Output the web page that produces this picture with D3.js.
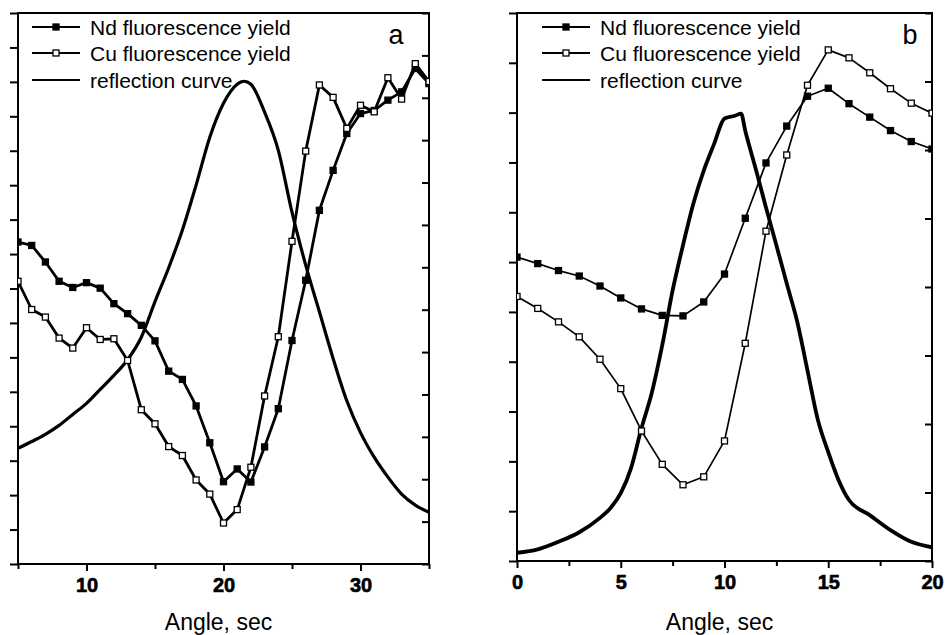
<!DOCTYPE html>
<html>
<head>
<meta charset="utf-8">
<script src="https://cdn.jsdelivr.net/npm/d3@7"></script>
<style>
  html, body { margin: 0; padding: 0; background: #fff; }
  svg { display: block; font-family: "Liberation Sans", Arial, sans-serif; }
</style>
</head>
<body>
<svg id="chart" width="948" height="635"></svg>
<script>
// panel a: angle 5..35 sec
const anglesA = [5, 6, 7, 8, 9, 10, 11, 12, 13, 14, 15, 16, 17, 18, 19, 20,
  21, 22, 23, 24, 25, 26, 27, 28, 29, 30, 31, 32, 33, 34, 35];
const ndA = [9.35, 9.25, 8.77, 8.21, 8.03, 8.17, 8.01, 7.56, 7.27, 6.93, 6.48, 5.6, 5.36, 4.59, 3.52, 2.39,
  2.76, 2.38, 3.4, 4.51, 6.49, 8.24, 10.27, 11.43, 12.5, 13.08, 13.17, 13.47, 13.71, 14.39, 13.95];
const cuA = [8.21, 7.39, 7.17, 6.56, 6.27, 6.86, 6.52, 6.54, 5.91, 4.48, 4.07, 3.41, 3.15, 2.44, 2.03, 1.19,
  1.58, 2.81, 4.88, 6.6, 9.37, 11.99, 13.91, 13.55, 12.65, 13.32, 13.13, 14.12, 13.5, 14.53, 14.01];
const reflAnglesA = [5, 6, 7, 8, 9, 10, 11, 12, 13, 14, 15, 16, 17, 18, 19, 20, 21, 21.5,
  22, 23, 24, 25, 26, 27, 28, 29, 30, 31, 32, 33, 34, 35];
const reflA = [2.73, 2.89, 3.06, 3.27, 3.53, 3.79, 4.12, 4.45, 4.82, 5.35, 6.19, 6.99, 7.88, 8.94, 10.07, 10.87, 11.32, 11.39,
  11.32, 10.66, 9.76, 8.3, 7.05, 5.95, 4.85, 3.85, 3.1, 2.52, 2.05, 1.65, 1.39, 1.22];

// panel b: angle 0..20 sec
const anglesB = [0, 1, 2, 3, 4, 5, 6, 7, 8, 9, 10, 11, 12, 13, 14, 15, 16, 17, 18, 19, 20];
const ndB = [6.1, 5.97, 5.83, 5.72, 5.52, 5.28, 5.06, 4.93, 4.92, 5.2, 5.76,
  6.88, 7.99, 8.73, 9.33, 9.49, 9.18, 8.91, 8.64, 8.42, 8.27];
const cuB = [5.31, 5.07, 4.8, 4.5, 4.05, 3.46, 2.61, 1.94, 1.53, 1.69, 2.41,
  4.37, 6.62, 8.15, 9.55, 10.26, 10.1, 9.8, 9.48, 9.19, 8.99];
const reflAnglesB = [0, 1, 2, 3, 4, 4.5, 5, 5.5, 6, 6.5, 7, 7.5, 8, 8.5, 9, 9.5, 10, 10.5, 10.8,
  11, 11.5, 12, 12.5, 13, 13.5, 14, 14.5, 15, 15.5, 16, 17, 18, 19, 20];
const reflB = [0.12, 0.17, 0.28, 0.42, 0.63, 0.77, 0.99, 1.36, 1.94, 2.46, 3.15, 3.95, 4.61, 5.22, 5.7, 6.09, 6.46, 6.5, 6.53,
  6.28, 5.73, 5.16, 4.61, 4.05, 3.5, 2.78, 2.06, 1.59, 1.18, 0.89, 0.67, 0.45, 0.28, 0.2];

const legendLabels = ["Nd fluorescence yield", "Cu fluorescence yield", "reflection curve"];
const xTicksA = [10, 20, 30];
const xTicksB = [0, 5, 10, 15, 20];

const svg = d3.select("#chart");

function drawPanel(p) {
  const g = svg.append("g");
  const x = d3.scaleLinear().domain(p.xDomain).range([p.left, p.right]);
  const yL = d3.scaleLinear().domain(p.leftDomain).range([p.bottom, p.top]);
  const yR = d3.scaleLinear().domain(p.rightDomain).range([p.bottom, p.top]);

  // frame
  g.append("rect")
    .attr("x", p.left).attr("y", p.top)
    .attr("width", p.right - p.left).attr("height", p.bottom - p.top)
    .attr("fill", "none").attr("stroke", "#000").attr("stroke-width", 2);

  // left axis, outward ticks, no labels
  g.append("g")
    .attr("transform", `translate(${p.left},0)`)
    .call(d3.axisLeft(yL).tickValues(d3.range(p.leftDomain[0], p.leftDomain[1] + 0.01, 1)).tickSize(8).tickFormat(""))
    .call((a) => a.select(".domain").remove())
    .call((a) => a.selectAll(".tick line").attr("stroke-width", 2));

  // right axis, inward ticks
  g.append("g")
    .attr("transform", `translate(${p.right},0)`)
    .call(d3.axisLeft(yR).tickValues(d3.range(p.rightDomain[0], p.rightDomain[1] + 0.01, 1)).tickSize(7).tickFormat(""))
    .call((a) => a.select(".domain").remove())
    .call((a) => a.selectAll(".tick line").attr("stroke-width", 2));

  // bottom axis major + minor
  g.append("g")
    .attr("transform", `translate(0,${p.bottom})`)
    .call(d3.axisBottom(x).tickValues(p.minorTicks).tickSize(5).tickFormat(""))
    .call((a) => a.select(".domain").remove())
    .call((a) => a.selectAll(".tick line").attr("stroke-width", 2));

  g.append("g")
    .attr("transform", `translate(0,${p.bottom})`)
    .call(d3.axisBottom(x).tickValues(p.majorTicks).tickSize(7).tickPadding(7))
    .call((a) => a.select(".domain").remove())
    .call((a) => a.selectAll(".tick line").attr("stroke-width", 2))
    .call((a) => a.selectAll(".tick text")
      .attr("font-family", "\"Liberation Sans\", Arial, sans-serif")
      .attr("font-size", 20).attr("font-weight", "bold").attr("fill", "#000")
      .attr("stroke", "#000").attr("stroke-width", 0.6));

  g.append("text")
    .attr("x", (p.left + p.right) / 2 - 5).attr("y", 630)
    .attr("text-anchor", "middle").attr("font-size", 23)
    .text("Angle, sec");

  const clipId = "clip" + p.name;
  svg.append("clipPath").attr("id", clipId).append("rect")
    .attr("x", p.left).attr("y", p.top)
    .attr("width", p.right - p.left).attr("height", p.bottom - p.top);
  const plot = g.append("g").attr("clip-path", `url(#${clipId})`);

  const refl = p.reflX.map((a, i) => [a, p.refl[i]]);
  plot.append("path")
    .datum(refl)
    .attr("fill", "none").attr("stroke", "#000")
    .attr("stroke-width", p.reflWidth).attr("stroke-linejoin", "round")
    .attr("d", d3.line().x((d) => x(d[0])).y((d) => yR(d[1])).curve(d3.curveMonotoneX));

  const series = [
    { vals: p.nd, filled: true },
    { vals: p.cu, filled: false },
  ];
  series.forEach((s) => {
    const pts = p.angles.map((a, i) => [a, s.vals[i]]);
    plot.append("path")
      .datum(pts)
      .attr("fill", "none").attr("stroke", "#000")
      .attr("stroke-width", p.seriesWidth).attr("stroke-linejoin", "round")
      .attr("d", d3.line().x((d) => x(d[0])).y((d) => yL(d[1])));
    plot.selectAll(null)
      .data(pts)
      .enter()
      .append("rect")
      .attr("x", (d) => x(d[0]) - 3).attr("y", (d) => yL(d[1]) - 3)
      .attr("width", 6).attr("height", 6)
      .attr("fill", s.filled ? "#000" : "#fff")
      .attr("stroke", "#000").attr("stroke-width", 1.3);
  });

  // legend
  const lg = g.append("g");
  legendLabels.forEach((label, i) => {
    const yy = p.legendY[i];
    lg.append("line")
      .attr("x1", p.legendX).attr("x2", p.legendX + 48)
      .attr("y1", yy).attr("y2", yy)
      .attr("stroke", "#000").attr("stroke-width", 1.8);
    if (i < 2) {
      lg.append("rect")
        .attr("x", p.legendX + 24 - 3).attr("y", yy - 3)
        .attr("width", 6).attr("height", 6)
        .attr("fill", i === 0 ? "#000" : "#fff")
        .attr("stroke", "#000").attr("stroke-width", 1.3);
    }
    lg.append("text")
      .attr("x", p.legendX + 58).attr("y", yy + 7.5)
      .attr("font-size", 21)
      .text(label);
  });

  g.append("text")
    .attr("x", p.letterX).attr("y", 44)
    .attr("text-anchor", "middle").attr("font-size", 27)
    .text(p.name);
}

drawPanel({
  name: "a",
  left: 18, right: 429, top: 13, bottom: 564,
  xDomain: [5, 35], leftDomain: [0, 16], rightDomain: [0, 13],
  majorTicks: xTicksA, minorTicks: [5, 15, 25, 35],
  angles: anglesA, nd: ndA, cu: cuA, reflX: reflAnglesA, refl: reflA,
  seriesWidth: 2.8, reflWidth: 3.2,
  legendX: 32, legendY: [27, 53, 80], letterX: 396,
});

drawPanel({
  name: "b",
  left: 517, right: 932, top: 13, bottom: 561,
  xDomain: [0, 20], leftDomain: [0, 11], rightDomain: [0, 8],
  majorTicks: xTicksB, minorTicks: [2.5, 7.5, 12.5, 17.5],
  angles: anglesB, nd: ndB, cu: cuB, reflX: reflAnglesB, refl: reflB,
  seriesWidth: 1.7, reflWidth: 3.8,
  legendX: 542, legendY: [27, 53, 80], letterX: 910,
});
</script>
</body>
</html>
